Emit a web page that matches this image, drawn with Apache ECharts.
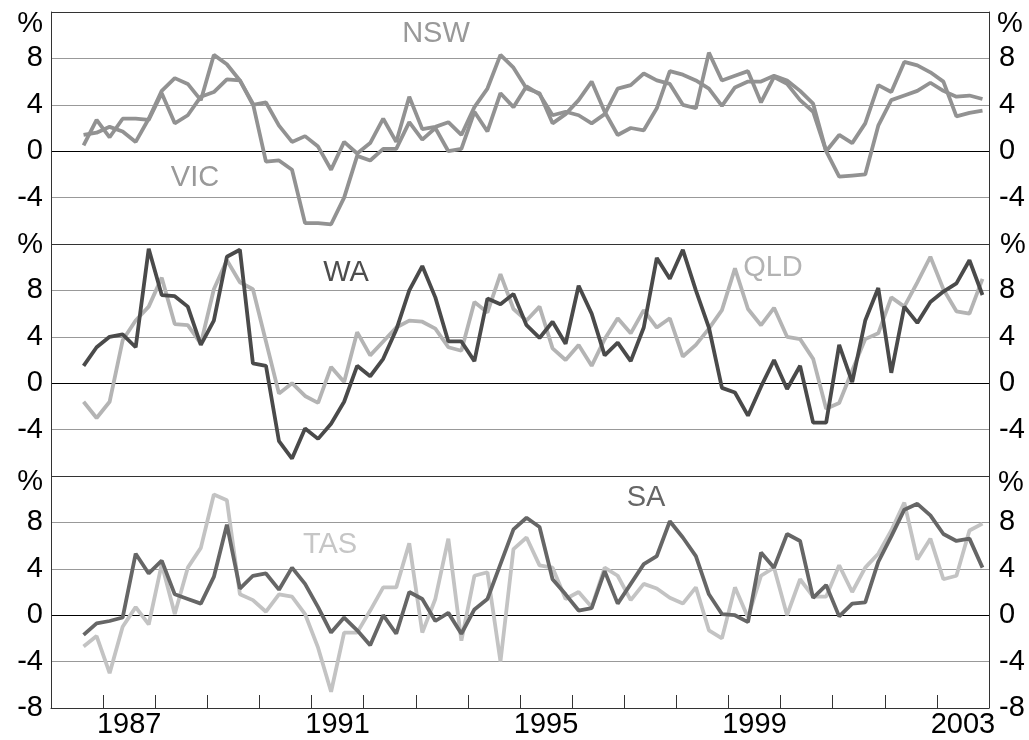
<!DOCTYPE html>
<html><head><meta charset="utf-8">
<script src="https://cdn.jsdelivr.net/npm/echarts@6/dist/echarts.min.js"></script>
<style>html,body{margin:0;padding:0;background:#fff}#c{width:1029px;height:740px}</style>
</head><body><div id="c"></div>
<script>
// ---- data (quarterly, % change, from 1986 Q3 to 2003 Q4) ----
const startYear = 1986, endYear = 2003;
const firstDataQuarter = 2; // data starts in Q3 1986
const yearLabels = [1987, 1991, 1995, 1999, 2003];
const nsw = [0.5,2.7,1.2,2.8,2.8,2.7,5.0,2.4,3.1,4.7,5.1,6.2,6.1,4.0,4.2,2.2,0.8,1.3,0.4,-1.6,0.8,-0.2,0.7,2.8,0.8,4.7,1.9,2.1,2.5,1.4,3.8,5.4,8.3,7.2,5.4,5.0,2.4,3.2,4.4,6.0,3.4,1.4,2.0,1.8,3.7,6.9,6.6,6.1,5.4,3.9,5.5,6.0,6.0,6.5,6.1,5.2,4.1,0.0,-2.2,-2.1,-2.0,2.2,4.4,4.8,5.2,5.9,5.2,4.7,4.8,4.5];
const vic = [1.4,1.6,2.1,1.7,0.8,2.8,5.2,6.3,5.8,4.4,8.3,7.5,6.1,4.1,-0.9,-0.8,-1.6,-6.2,-6.2,-6.3,-4.0,-0.4,-0.8,0.2,0.2,2.5,1.0,2.0,0.0,0.2,3.4,1.7,5.0,3.8,5.6,4.9,3.1,3.4,3.1,2.4,3.2,5.4,5.7,6.7,6.1,5.8,4.0,3.7,8.5,6.1,6.5,6.9,4.2,6.4,5.8,4.4,3.4,0.0,1.4,0.7,2.4,5.7,5.1,7.7,7.4,6.8,6.0,3.0,3.3,3.5];
const wa = [1.5,3.1,4.0,4.2,3.1,11.6,7.6,7.5,6.6,3.3,5.4,10.9,11.5,1.7,1.5,-5.0,-6.5,-3.9,-4.8,-3.5,-1.6,1.5,0.6,2.1,4.6,8.0,10.1,7.4,3.6,3.6,1.9,7.3,6.8,7.7,5.0,3.9,5.3,3.4,8.4,6.0,2.4,3.5,1.9,4.8,10.8,9.0,11.5,8.0,4.8,-0.4,-0.8,-2.8,-0.3,2.0,-0.5,1.5,-3.4,-3.4,3.3,0.1,5.4,8.2,0.9,6.6,5.2,7.0,7.9,8.6,10.6,7.6];
const qld = [-1.6,-3.0,-1.6,3.7,5.4,6.6,9.1,5.1,5.0,3.4,8.1,10.6,8.7,8.1,3.6,-0.9,0.0,-1.1,-1.7,1.4,0.1,4.4,2.4,3.6,4.8,5.4,5.3,4.7,3.1,2.8,7.0,6.1,9.4,6.4,5.4,6.6,3.0,2.0,3.3,1.5,3.8,5.6,4.3,6.3,4.8,5.6,2.3,3.3,4.7,6.3,9.9,6.4,5.0,6.5,4.0,3.8,2.1,-2.2,-1.7,1.1,3.8,4.3,7.4,6.6,8.7,10.9,8.1,6.2,6.0,9.0];
const sa = [-1.7,-0.7,-0.5,-0.2,5.3,3.6,4.7,1.8,1.4,1.0,3.3,7.8,2.3,3.4,3.6,2.2,4.1,2.7,0.7,-1.5,-0.2,-1.3,-2.6,0.0,-1.6,2.0,1.4,-0.5,0.2,-1.6,0.5,1.4,4.4,7.4,8.4,7.6,3.1,1.8,0.4,0.6,3.8,1.0,2.7,4.4,5.1,8.1,6.7,5.1,1.8,0.1,0.0,-0.6,5.4,4.1,7.0,6.4,1.5,2.6,-0.1,1.0,1.1,4.6,6.8,9.1,9.6,8.6,7.0,6.4,6.6,4.1];
const tas = [-2.7,-1.8,-5.0,-1.0,0.7,-0.8,4.4,0.1,4.1,5.8,10.4,9.9,1.8,1.3,0.3,1.8,1.6,0.1,-2.8,-6.6,-1.5,-1.5,0.4,2.4,2.4,6.2,-1.5,1.4,6.6,-2.2,3.4,3.7,-4.0,5.7,6.7,4.3,4.1,1.4,2.0,0.7,4.1,3.4,1.3,2.7,2.3,1.5,1.0,2.4,-1.3,-2.0,2.4,-0.2,3.4,4.1,0.0,3.1,1.6,1.6,4.3,2.0,4.1,5.3,7.3,9.7,4.8,6.6,3.1,3.4,7.3,7.9];

// category list: every quarter of the covered years
const categories = [];
for (let y = startYear; y <= endYear; y++) for (let q = 1; q <= 4; q++) categories.push(y + '-Q' + q);
const pad = arr => Array(firstDataQuarter).fill(null).concat(arr);

const FONT = 'Liberation Sans, Arial, sans-serif';
const GRID_TOPS = [12, 244, 476];
const PANEL_H = 232;

function yAx(grid, side, isBottom) {
  return {
    type: 'value', gridIndex: grid, position: side, min: -8, max: 12, interval: 4,
    axisLine: { show: true, onZero: false, lineStyle: { color: '#333', width: 1 } },
    axisTick: { show: false },
    splitLine: { show: side === 'left', lineStyle: { color: ['#333', '#999', '#000', '#999', '#999', '#333'], width: 1 } },
    axisLabel: {
      fontFamily: FONT, fontSize: 29, color: '#000', margin: side === 'left' ? 8 : 10,
      formatter: v => (v === 12 || (v === -8 && !isBottom)) ? '' : String(v)
    }
  };
}
function xCat(grid, visible) {
  return {
    type: 'category', gridIndex: grid, data: categories, boundaryGap: true, show: visible,
    axisLine: { show: visible, onZero: false, lineStyle: { color: '#333', width: 1 } },
    axisTick: { show: visible, inside: true, interval: 3, length: 13, lineStyle: { color: '#333', width: 1 } },
    axisLabel: { show: false }, splitLine: { show: false }
  };
}
function line(name, data, xi, yi, color) {
  return { name, type: 'line', xAxisIndex: xi, yAxisIndex: yi, data: pad(data), symbol: 'none',
    lineStyle: { color, width: 3.8 }, itemStyle: { color }, silent: true, animation: false, connectNulls: false };
}
function label(text, x, y, color, align) {
  return { type: 'text', x, y, style: { text, fill: color, font: '29px ' + FONT, textAlign: align || 'center', textVerticalAlign: 'middle' }, z: 100 };
}

const chart = echarts.init(document.getElementById('c'), null, { renderer: 'canvas' });
chart.setOption({
  backgroundColor: '#fff',
  animation: false,
  grid: GRID_TOPS.map(t => ({ left: 51, right: 40, top: t, height: PANEL_H })),
  xAxis: [
    xCat(0, false), xCat(1, false), xCat(2, true),
    { type: 'value', gridIndex: 2, position: 'bottom', min: startYear, max: endYear + 1, interval: 0.5,
      axisLine: { show: false }, axisTick: { show: false }, splitLine: { show: false },
      axisLabel: { fontFamily: FONT, fontSize: 29, color: '#000', margin: 2, showMinLabel: false, showMaxLabel: false,
        formatter: v => { const y = v - 0.5; return yearLabels.includes(y) ? String(y) : ''; } } }
  ],
  yAxis: [
    yAx(0, 'left', false), yAx(0, 'right', false),
    yAx(1, 'left', false), yAx(1, 'right', false),
    yAx(2, 'left', true), yAx(2, 'right', true)
  ],
  series: [
    line('NSW', nsw, 0, 0, '#929292'),
    line('VIC', vic, 0, 0, '#929292'),
    line('QLD', qld, 1, 2, '#b4b4b4'),
    line('WA', wa, 1, 2, '#4a4a4a'),
    line('TAS', tas, 2, 4, '#c3c3c3'),
    line('SA', sa, 2, 4, '#666666')
  ],
  graphic: [
    label('NSW', 436, 34, '#999999'),
    label('VIC', 195, 178, '#999999'),
    label('WA', 346, 273, '#4d4d4d'),
    label('QLD', 773, 268, '#b3b3b3'),
    label('TAS', 330, 545, '#c6c6c6'),
    label('SA', 646, 498, '#666666'),
    label('%', 43, 24, '#000', 'right'), label('%', 997, 24, '#000', 'left'),
    label('%', 43, 245, '#000', 'right'), label('%', 1000, 245, '#000', 'left'),
    label('%', 43, 482, '#000', 'right'), label('%', 998, 483, '#000', 'left')
  ]
});
</script>
</body></html>
